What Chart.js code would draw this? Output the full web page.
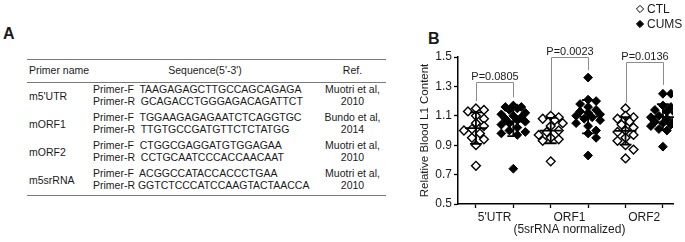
<!DOCTYPE html>
<html lang="en">
<head>
<meta charset="UTF-8">
<title>L1 primers and blood L1 content</title>
<script src="https://cdn.jsdelivr.net/npm/chart.js"></script>
<style>
    body {
        margin: 0;
        width: 685px;
        height: 242px;
        position: relative;
        overflow: hidden;
        background: #fff;
        color: #1a1a1a;
        font-family: 'Liberation Sans', Arial, sans-serif;
    }
    .panel-label {
        position: absolute;
        font-size: 16px;
        line-height: 16px;
        font-weight: bold;
    }
    #labelA { left: 3px; top: 26px; }
    #labelB { left: 428px; top: 31px; }
    table.primers {
        position: absolute;
        left: 27px;
        top: 59px;
        width: 359px;
        table-layout: fixed;
        border-collapse: collapse;
        font-size: 10.5px;
        line-height: 11.7px;
        border-top: 1px solid #7a7a7a;
        border-bottom: 1px solid #7a7a7a;
    }
    table.primers th {
        font-weight: normal;
        height: 22px;
        padding: 0;
        border-bottom: 1px solid #7a7a7a;
    }
    table.primers td {
        height: 27px;
        padding: 0;
        vertical-align: middle;
    }
    table.primers td.seq {
        vertical-align: top;
        padding: 1px 0 0 2px;
        white-space: pre;
    }
    table.primers td.ref {
        vertical-align: top;
        padding-top: 1px;
        text-align: center;
    }
    .name { text-align: left; padding-left: 2px !important; }
    #chartBox {
        position: absolute;
        left: 395px;
        top: 0;
        width: 290px;
        height: 242px;
    }
</style>
</head>
<body>

<div class="panel-label" id="labelA">A</div>
<table class="primers">
    <colgroup>
        <col style="width:64px">
        <col style="width:228px">
        <col style="width:67px">
    </colgroup>
    <thead>
        <tr><th class="name">Primer name</th><th>Sequence(5'-3')</th><th>Ref.</th></tr>
    </thead>
    <tbody id="primerRows"></tbody>
</table>

<div class="panel-label" id="labelB">B</div>
<div id="chartBox"><canvas id="l1Chart" width="290" height="242"></canvas></div>

<script>
    // ---- panel A: primer table ----
    const primerNames = ["m5'UTR", "mORF1", "mORF2", "m5srRNA"];
    const forwardSeqs = ["TAAGAGAGCTTGCCAGCAGAGA", "TGGAAGAGAGAATCTCAGGTGC", "CTGGCGAGGATGTGGAGAA", "ACGGCCATACCACCCTGAA"];
    const reverseSeqs = ["GCAGACCTGGGAGACAGATTCT", "TTGTGCCGATGTTCTCTATGG", "CCTGCAATCCCACCAACAAT", "GGTCTCCCATCCAAGTACTAACCA"];
    const refAuthors = ["Muotri et al,", "Bundo et al,", "Muotri et al,", "Muotri et al,"];
    const refYears = ["2010", "2014", "2010", "2010"];

    const rows = document.getElementById("primerRows");
    primerNames.forEach((name, i) => {
        const revGap = i === 3 ? " " : "  ";
        rows.innerHTML += `<tr>
            <td class="name">${name}</td>
            <td class="seq">Primer-F  ${forwardSeqs[i]}\nPrimer-R${revGap}${reverseSeqs[i]}</td>
            <td class="ref">${refAuthors[i]}<br>${refYears[i]}</td>
        </tr>`;
    });

    // ---- panel B: scatter dot plot ----
    const genes = ["5'UTR", "ORF1", "ORF2"];
    const ctl5UTR  = [1.15, 1.14, 1.13, 1.10, 1.08, 1.05, 1.03, 1.01, 1.00, 0.98, 0.95, 0.94, 0.90, 0.76];
    const cums5UTR = [1.17, 1.16, 1.16, 1.15, 1.14, 1.12, 1.11, 1.10, 1.09, 1.08, 1.07, 1.06, 1.05, 1.04, 1.02, 1.00, 0.99, 0.98, 0.97, 0.74];
    const ctlORF1  = [1.10, 1.09, 1.08, 1.07, 1.05, 1.03, 1.00, 0.99, 0.97, 0.95, 0.94, 0.93, 0.79];
    const cumsORF1 = [1.36, 1.21, 1.20, 1.18, 1.16, 1.14, 1.13, 1.12, 1.11, 1.10, 1.09, 1.08, 1.07, 1.05, 1.03, 1.00, 0.98, 0.95, 0.83];
    const ctlORF2  = [1.15, 1.10, 1.09, 1.08, 1.06, 1.04, 1.02, 1.00, 0.99, 0.97, 0.95, 0.93, 0.90, 0.87, 0.81];
    const cumsORF2 = [1.25, 1.25, 1.17, 1.16, 1.14, 1.13, 1.12, 1.10, 1.09, 1.08, 1.07, 1.06, 1.05, 1.04, 1.03, 1.01, 1.00, 0.89];
    const yTicks = [0.5, 0.7, 0.9, 1.1, 1.3, 1.5];

    // significance brackets: label, bracket height, leg ends (CTL side, CUMS side)
    const pLabels = ["P=0.0805", "P=0.0023", "P=0.0136"];
    const bracketTops = [1.33, 1.497, 1.465];
    const legCtl = [1.20, 1.13, 1.19];
    const legCums = [1.225, 1.41, 1.31];

    const ctlGroups = [ctl5UTR, ctlORF1, ctlORF2];
    const cumsGroups = [cums5UTR, cumsORF1, cumsORF2];

    // approximate pixel sizes of one unit on each axis, used only to spread dots
    const PX_PER_X = 37.4, PX_PER_Y = 147;

    // spread equal-ish values sideways like a prism scatter dot plot
    function swarm(values, center) {
        const placed = [];
        const step = 4, minGap = 6.5;
        return values.slice().sort((a, b) => b - a).map(v => {
            const py = v * PX_PER_Y;
            let best = null, bestDist = -1;
            for (let k = 0; k <= 3; k++) {
                const cands = k === 0 ? [0] : [k * step, -k * step];
                for (const dx of cands) {
                    const d = placed.reduce((m, p) => Math.min(m, Math.hypot(p.dx - dx, p.py - py)), Infinity);
                    if (d >= minGap) { placed.push({ dx, py }); return { x: center + dx / PX_PER_X, y: v }; }
                    if (d > bestDist) { bestDist = d; best = dx; }
                }
            }
            placed.push({ dx: best, py });
            return { x: center + best / PX_PER_X, y: v };
        });
    }

    const ctlPoints = ctlGroups.flatMap((vals, i) => swarm(vals, 2 * i + 1));
    const cumsPoints = cumsGroups.flatMap((vals, i) => swarm(vals, 2 * i + 2));

    function meanSd(vals) {
        const m = vals.reduce((a, b) => a + b, 0) / vals.length;
        const sd = Math.sqrt(vals.reduce((a, b) => a + (b - m) ** 2, 0) / (vals.length - 1));
        return { m, sd };
    }

    const errorBars = {
        id: "errorBars",
        afterDatasetsDraw(chart) {
            const { ctx, scales: { x, y } } = chart;
            const groups = ctlGroups.map((v, i) => ({ vals: v, pos: 2 * i + 1 }))
                .concat(cumsGroups.map((v, i) => ({ vals: v, pos: 2 * i + 2 })));
            ctx.save();
            ctx.strokeStyle = "#000";
            ctx.lineWidth = 1.8;
            groups.forEach(g => {
                const { m, sd } = meanSd(g.vals);
                const cx = x.getPixelForValue(g.pos);
                const yTop = y.getPixelForValue(m + sd), yMid = y.getPixelForValue(m), yBot = y.getPixelForValue(m - sd);
                ctx.beginPath();
                ctx.moveTo(cx, yTop); ctx.lineTo(cx, yBot);
                ctx.moveTo(cx - 11, yMid); ctx.lineTo(cx + 11, yMid);
                ctx.moveTo(cx - 6, yTop); ctx.lineTo(cx + 6, yTop);
                ctx.moveTo(cx - 6, yBot); ctx.lineTo(cx + 6, yBot);
                ctx.stroke();
            });
            ctx.restore();
        },
        afterDraw(chart) {
            const { ctx, scales: { x, y } } = chart;
            ctx.save();
            // brackets with p values
            ctx.strokeStyle = "#8c8c8c";
            ctx.lineWidth = 1;
            ctx.fillStyle = "#1a1a1a";
            ctx.font = "11px 'Liberation Sans', Arial, sans-serif";
            ctx.textAlign = "center";
            ctx.textBaseline = "alphabetic";
            pLabels.forEach((label, i) => {
                const x1 = Math.round(x.getPixelForValue(2 * i + 1)) + 0.5;
                const x2 = Math.round(x.getPixelForValue(2 * i + 2)) + 0.5;
                const top = Math.round(y.getPixelForValue(bracketTops[i])) + 0.5;
                ctx.beginPath();
                ctx.moveTo(x1, y.getPixelForValue(legCtl[i]));
                ctx.lineTo(x1, top);
                ctx.lineTo(x2, top);
                ctx.lineTo(x2, y.getPixelForValue(legCums[i]));
                ctx.stroke();
                ctx.fillText(label, (x1 + x2) / 2, top - 3);
            });
            // legend, top right
            ctx.textAlign = "left";
            ctx.textBaseline = "middle";
            ctx.font = "12px 'Liberation Sans', Arial, sans-serif";
            chart.data.datasets.forEach((ds, i) => {
                const ly = 9 + i * 15;
                ctx.fillStyle = ds.backgroundColor;
                ctx.strokeStyle = ds.borderColor;
                Chart.helpers.drawPoint(ctx, { pointStyle: "rectRot", radius: 3.6, borderWidth: 1.4, rotation: 0 }, 245, ly);
                ctx.fillStyle = "#1a1a1a";
                ctx.fillText(ds.label, 252, ly + 0.5);
            });
            ctx.restore();
        }
    };

    new Chart(document.getElementById("l1Chart"), {
        type: "scatter",
        data: {
            datasets: [
                { label: "CTL", data: ctlPoints, pointStyle: "rectRot", pointRadius: 4.4, backgroundColor: "#ffffff", borderColor: "#000000", borderWidth: 1.4 },
                { label: "CUMS", data: cumsPoints, pointStyle: "rectRot", pointRadius: 4.4, backgroundColor: "#000000", borderColor: "#000000", borderWidth: 1 }
            ]
        },
        options: {
            responsive: false,
            animation: false,
            layout: { padding: { top: 57, right: 12, left: 20, bottom: 0 } },
            plugins: { legend: { display: false }, tooltip: { enabled: false } },
            scales: {
                x: {
                    type: "linear",
                    min: 0.52,
                    max: 6.27,
                    afterBuildTicks: s => { s.ticks = [1, 1.5, 2, 3, 3.5, 4, 5, 5.5, 6].map(v => ({ value: v })); },
                    afterFit: s => { s.height = 38; },
                    ticks: {
                        autoSkip: false,
                        maxRotation: 0,
                        padding: 3,
                        color: "#1a1a1a",
                        font: { size: 12, family: "'Liberation Sans', Arial, sans-serif", lineHeight: 1.05 },
                        callback: v => {
                            if (Number.isInteger(v)) return "";
                            const g = genes[(v - 1.5) / 2];
                            return g === "ORF1" ? [g, "(5srRNA normalized)"] : g;
                        }
                    },
                    grid: {
                        drawOnChartArea: false,
                        tickLength: 4,
                        tickWidth: 1.3,
                        tickColor: c => (c.tick && Number.isInteger(c.tick.value)) ? "#000" : "rgba(0,0,0,0)"
                    },
                    border: { color: "#000", width: 1.5 }
                },
                y: {
                    min: 0.5,
                    max: 1.5,
                    afterBuildTicks: s => { s.ticks = yTicks.map(v => ({ value: v })); },
                    afterFit: s => { s.width = 43; },
                    ticks: {
                        padding: 2,
                        color: "#1a1a1a",
                        font: { size: 12, family: "'Liberation Sans', Arial, sans-serif" },
                        callback: v => v.toFixed(1)
                    },
                    grid: { drawOnChartArea: false, tickLength: 4, tickWidth: 1.3, tickColor: "#000" },
                    border: { color: "#000", width: 1.5 },
                    title: {
                        display: true,
                        text: "Relative Blood L1 Content",
                        color: "#1a1a1a",
                        font: { size: 11.5, family: "'Liberation Sans', Arial, sans-serif" },
                        padding: { top: 3, bottom: 0 }
                    }
                }
            }
        },
        plugins: [errorBars]
    });
</script>
</body>
</html>
